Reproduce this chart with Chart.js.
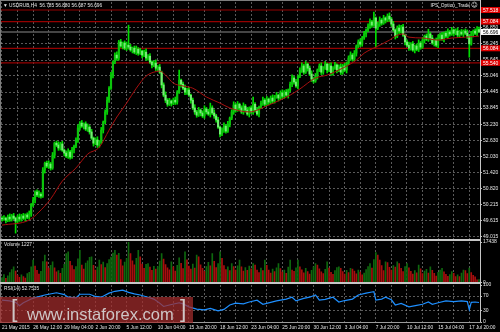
<!DOCTYPE html>
<html>
<head>
<meta charset="utf-8">
<script src="https://cdn.jsdelivr.net/npm/chart.js@4.4.1/dist/chart.umd.min.js"></script>
<style>
  html, body { margin: 0; padding: 0; background: #000; }
  #wrap { position: relative; width: 500px; height: 332px; overflow: hidden; background: #000; }
  canvas { position: absolute; left: 0; }
  .rule { position: absolute; }
  #wm { position: absolute; left: 0; top: 297px; width: 193px; height: 26px; background: rgba(165,45,45,0.72);
        color: #cfc6c6; font-family: 'Liberation Sans', Arial, sans-serif; }
  #wm span { position: absolute; white-space: nowrap; }
</style>
</head>
<body>
<div id="wrap">
  <canvas id="main" width="500" height="240" style="top:0"></canvas>
  <canvas id="vol" width="500" height="46" style="top:238px"></canvas>
  <canvas id="rsi" width="500" height="50" style="top:282px"></canvas>
  <div class="rule" style="left:0;top:0;width:481px;height:1px;background:#7d7d7d"></div>
  <div class="rule" style="left:0;top:0;width:1px;height:323px;background:#7d7d7d"></div>
  <div class="rule" style="left:480px;top:0;width:1px;height:323px;background:#c6c6c6"></div>
  <div class="rule" style="left:0;top:239px;width:480px;height:2px;background:#c6c6c6"></div>
  <div class="rule" style="left:0;top:282px;width:480px;height:2px;background:#c6c6c6"></div>
  <div class="rule" style="left:0;top:322px;width:481px;height:1px;background:#9a9a9a"></div>
  <div id="wm">
    <span style="left:11px;top:1px;font-size:23px;line-height:23px">[</span>
    <span style="left:27px;top:9px;font-size:16.5px;line-height:16.5px">www.instaforex.com</span>
    <span style="left:180px;top:1px;font-size:23px;line-height:23px">]</span>
  </div>
</div>
<script>
// time axis labels, one every 16 bars (H4)
const timeLabels = ['21 May 2015', '26 May 12:00', '29 May 04:00', '2 Jun 20:00', '5 Jun 12:00', '10 Jun 04:00',
  '15 Jun 20:00', '18 Jun 12:00', '23 Jun 04:00', '25 Jun 20:00', '30 Jun 12:00', '3 Jul 04:00',
  '7 Jul 20:00', '10 Jul 12:00', '15 Jul 04:00', '17 Jul 20:00'];

const priceTicks = [49.015, 49.615, 50.215, 50.820, 51.420, 52.030, 52.630, 53.230, 53.845, 54.445,
  55.046, 55.645, 56.245, 56.850];
const levelPrices = [57.518, 57.084, 56.084, 55.540];

const opens = [
  49.72, 49.69, 49.72, 49.65, 49.76, 49.69, 49.80, 49.72, 49.61, 49.76,
  49.69, 49.80, 49.72, 49.84, 49.76, 49.87, 50.21, 50.40, 50.70, 50.59,
  50.62, 50.55, 51.52, 51.78, 51.67, 51.75, 51.60, 52.08, 52.53, 52.46,
  52.35, 52.50, 52.27, 52.16, 52.05, 52.20, 52.01, 52.27, 52.42, 52.65,
  53.10, 53.28, 53.17, 53.25, 53.06, 53.13, 52.95, 52.72, 52.53, 52.65,
  52.46, 52.57, 53.02, 53.32, 53.70, 54.14, 54.59, 55.08, 55.57, 55.83,
  55.72, 56.32, 56.17, 56.28, 56.09, 56.20, 56.13, 56.02, 56.09, 55.94,
  56.05, 55.90, 55.98, 55.83, 55.94, 55.72, 55.79, 55.57, 55.46, 55.53,
  55.34, 55.38, 55.19, 54.71, 54.33, 54.14, 53.99, 54.11, 54.03, 54.14,
  54.07, 54.44, 54.89, 54.74, 54.59, 54.44, 54.52, 54.33, 54.14, 53.85,
  53.70, 53.58, 53.77, 53.66, 53.55, 53.81, 53.70, 53.62, 53.85, 53.66,
  53.55, 53.40, 53.13, 52.87, 53.02, 53.17, 52.98, 53.25, 53.47, 53.70,
  53.96, 53.77, 53.99, 53.85, 53.70, 53.92, 53.77, 53.62, 53.85, 53.70,
  53.99, 53.77, 53.62, 53.88, 54.03, 54.14, 53.99, 54.18, 54.07, 54.22,
  54.11, 54.26, 54.33, 54.22, 54.41, 54.29, 54.44, 54.33, 54.52, 54.74,
  54.97, 54.82, 54.67, 55.04, 55.27, 55.42, 55.19, 55.49, 55.34, 55.12,
  54.93, 54.86, 55.04, 55.27, 55.42, 55.19, 55.34, 55.49, 55.27, 55.42,
  55.16, 55.34, 55.46, 55.27, 55.38, 55.19, 55.42, 55.27, 55.53, 55.72,
  55.83, 55.68, 55.90, 56.17, 56.32, 56.24, 56.47, 56.62, 56.77, 56.92,
  57.07, 56.95, 57.22, 56.84, 56.99, 57.14, 57.03, 57.22, 57.14, 57.29,
  57.18, 56.99, 56.77, 56.54, 56.84, 56.73, 56.88, 56.58, 56.32, 56.20,
  56.09, 56.24, 56.02, 56.17, 56.05, 56.28, 56.13, 56.39, 56.54, 56.43,
  56.62, 56.47, 56.28, 56.39, 56.20, 56.47, 56.58, 56.43, 56.65, 56.54,
  56.69, 56.62, 56.77, 56.65, 56.73, 56.58, 56.69, 56.62, 56.73, 56.65,
  56.54, 56.25, 56.62, 56.73, 56.65, 56.785];

const highs = [
  49.78, 49.82, 49.76, 49.84, 49.88, 49.86, 49.90, 49.76, 49.84, 49.88,
  49.86, 49.90, 49.88, 49.92, 49.99, 50.27, 50.50, 50.74, 50.78, 50.74,
  50.68, 51.62, 51.82, 51.86, 51.87, 51.81, 52.18, 52.57, 52.61, 52.58,
  52.56, 52.60, 52.31, 52.24, 52.32, 52.26, 52.37, 52.46, 52.73, 53.22,
  53.34, 53.38, 53.29, 53.33, 53.25, 53.19, 53.05, 52.76, 52.73, 52.77,
  52.63, 53.12, 53.36, 53.78, 54.26, 54.65, 55.18, 55.61, 55.91, 55.95,
  56.38, 56.42, 56.32, 56.36, 56.32, 56.95, 56.23, 56.13, 56.17, 56.17,
  56.11, 56.08, 56.02, 56.02, 56.06, 55.85, 55.89, 55.61, 55.61, 55.65,
  55.44, 55.48, 55.23, 54.79, 54.45, 54.20, 54.21, 54.15, 54.22, 54.26,
  54.50, 55.27, 54.93, 54.82, 54.71, 54.58, 54.62, 54.37, 54.22, 53.97,
  53.76, 53.87, 53.81, 53.74, 53.93, 53.87, 53.80, 54.03, 53.93, 53.78,
  53.61, 53.50, 53.17, 53.10, 53.29, 53.23, 53.35, 53.51, 53.78, 54.08,
  54.02, 54.09, 54.03, 53.93, 54.04, 53.98, 53.87, 53.89, 53.93, 54.26,
  54.05, 53.87, 53.92, 54.11, 54.26, 54.20, 54.28, 54.22, 54.30, 54.34,
  54.32, 54.43, 54.37, 54.49, 54.53, 54.50, 54.54, 54.56, 54.82, 55.09,
  55.03, 54.92, 55.08, 55.35, 55.54, 55.48, 55.59, 55.53, 55.42, 55.24,
  54.99, 55.14, 55.31, 55.50, 55.54, 55.40, 55.59, 55.53, 55.50, 55.54,
  55.40, 55.56, 55.50, 55.46, 55.50, 55.48, 55.52, 55.57, 55.80, 55.95,
  55.89, 56.00, 56.21, 56.40, 56.44, 56.53, 56.72, 56.81, 57.00, 57.19,
  57.13, 57.44, 57.26, 57.07, 57.26, 57.20, 57.32, 57.26, 57.37, 57.41,
  57.24, 57.09, 56.81, 56.92, 56.96, 56.94, 56.98, 56.62, 56.40, 56.32,
  56.30, 56.34, 56.21, 56.25, 56.40, 56.34, 56.49, 56.58, 56.62, 56.80,
  56.68, 56.57, 56.43, 56.47, 56.59, 56.64, 56.68, 56.69, 56.73, 56.81,
  56.75, 56.87, 56.81, 56.81, 56.85, 56.75, 56.79, 56.77, 56.81, 56.77,
  56.60, 56.72, 56.77, 56.81, 56.90, 56.880];

const lows = [
  49.61, 49.64, 49.54, 49.59, 49.60, 49.61, 49.67, 49.16, 49.55, 49.60,
  49.61, 49.67, 49.61, 49.70, 49.67, 49.79, 50.16, 50.29, 50.53, 50.50,
  50.47, 50.50, 51.41, 51.61, 51.58, 51.52, 51.55, 51.97, 52.40, 52.26,
  52.27, 52.22, 52.05, 51.99, 51.96, 51.93, 51.96, 52.16, 52.36, 52.56,
  53.02, 53.12, 53.06, 53.00, 52.97, 52.87, 52.67, 52.42, 52.47, 52.37,
  52.38, 52.52, 52.91, 53.26, 53.61, 54.06, 54.54, 54.97, 55.51, 55.63,
  55.64, 56.12, 56.06, 56.03, 56.00, 56.05, 55.97, 55.91, 55.88, 55.85,
  55.82, 55.85, 55.72, 55.77, 55.63, 55.64, 55.52, 55.35, 55.40, 55.25,
  55.26, 55.14, 54.60, 54.27, 54.05, 53.91, 53.94, 53.92, 53.97, 53.98,
  53.99, 54.39, 54.63, 54.53, 54.35, 54.36, 54.28, 54.03, 53.79, 53.61,
  53.50, 53.53, 53.55, 53.49, 53.46, 53.62, 53.57, 53.51, 53.60, 53.46,
  53.32, 53.08, 52.76, 52.81, 52.93, 52.90, 52.93, 53.14, 53.41, 53.61,
  53.69, 53.72, 53.74, 53.64, 53.61, 53.69, 53.57, 53.51, 53.64, 53.61,
  53.69, 53.57, 53.51, 53.82, 53.94, 53.91, 53.94, 53.96, 54.01, 54.02,
  54.03, 54.21, 54.11, 54.16, 54.20, 54.21, 54.28, 54.22, 54.46, 54.65,
  54.74, 54.62, 54.56, 54.98, 55.18, 55.11, 55.14, 55.23, 55.06, 54.84,
  54.78, 54.81, 54.93, 55.21, 55.10, 55.11, 55.29, 55.16, 55.21, 55.07,
  55.08, 55.29, 55.16, 55.21, 55.10, 55.11, 55.22, 55.16, 55.47, 55.63,
  55.60, 55.63, 55.79, 56.11, 56.15, 56.16, 56.42, 56.51, 56.71, 56.83,
  56.87, 56.90, 56.13, 56.78, 56.90, 56.95, 56.98, 57.03, 57.08, 57.09,
  56.91, 56.72, 56.43, 56.48, 56.64, 56.65, 56.53, 56.21, 56.14, 56.00,
  56.01, 55.97, 55.91, 55.99, 55.96, 56.05, 56.08, 56.28, 56.37, 56.34,
  56.39, 56.23, 56.17, 56.14, 56.11, 56.39, 56.38, 56.32, 56.48, 56.45,
  56.54, 56.57, 56.54, 56.59, 56.49, 56.50, 56.57, 56.51, 56.59, 56.45,
  55.75, 56.20, 56.51, 56.59, 56.56, 56.687];

const closes = [
  49.69, 49.72, 49.65, 49.76, 49.69, 49.80, 49.72, 49.61, 49.76, 49.69,
  49.80, 49.72, 49.84, 49.76, 49.87, 50.21, 50.40, 50.70, 50.59, 50.62,
  50.55, 51.52, 51.78, 51.67, 51.75, 51.60, 52.08, 52.53, 52.46, 52.35,
  52.50, 52.27, 52.16, 52.05, 52.20, 52.01, 52.27, 52.42, 52.65, 53.10,
  53.28, 53.17, 53.25, 53.06, 53.13, 52.95, 52.72, 52.53, 52.65, 52.46,
  52.57, 53.02, 53.32, 53.70, 54.14, 54.59, 55.08, 55.57, 55.83, 55.72,
  56.32, 56.17, 56.28, 56.09, 56.20, 56.13, 56.02, 56.09, 55.94, 56.05,
  55.90, 55.98, 55.83, 55.94, 55.72, 55.79, 55.57, 55.46, 55.53, 55.34,
  55.38, 55.19, 54.71, 54.33, 54.14, 53.99, 54.11, 54.03, 54.14, 54.07,
  54.44, 54.89, 54.74, 54.59, 54.44, 54.52, 54.33, 54.14, 53.85, 53.70,
  53.58, 53.77, 53.66, 53.55, 53.81, 53.70, 53.62, 53.85, 53.66, 53.55,
  53.40, 53.13, 52.87, 53.02, 53.17, 52.98, 53.25, 53.47, 53.70, 53.96,
  53.77, 53.99, 53.85, 53.70, 53.92, 53.77, 53.62, 53.85, 53.70, 53.99,
  53.77, 53.62, 53.88, 54.03, 54.14, 53.99, 54.18, 54.07, 54.22, 54.11,
  54.26, 54.33, 54.22, 54.41, 54.29, 54.44, 54.33, 54.52, 54.74, 54.97,
  54.82, 54.67, 55.04, 55.27, 55.42, 55.19, 55.49, 55.34, 55.12, 54.93,
  54.86, 55.04, 55.27, 55.42, 55.19, 55.34, 55.49, 55.27, 55.42, 55.16,
  55.34, 55.46, 55.27, 55.38, 55.19, 55.42, 55.27, 55.53, 55.72, 55.83,
  55.68, 55.90, 56.17, 56.32, 56.24, 56.47, 56.62, 56.77, 56.92, 57.07,
  56.95, 57.22, 56.84, 56.99, 57.14, 57.03, 57.22, 57.14, 57.29, 57.18,
  56.99, 56.77, 56.54, 56.84, 56.73, 56.88, 56.58, 56.32, 56.20, 56.09,
  56.24, 56.02, 56.17, 56.05, 56.28, 56.13, 56.39, 56.54, 56.43, 56.62,
  56.47, 56.28, 56.39, 56.20, 56.47, 56.58, 56.43, 56.65, 56.54, 56.69,
  56.62, 56.77, 56.65, 56.73, 56.58, 56.69, 56.62, 56.73, 56.65, 56.54,
  56.25, 56.62, 56.73, 56.65, 56.785, 56.696];

const volumes = [
  2100, 3400, 1800, 2900, 4300, 5600, 6700, 4900, 3100, 2200,
  3300, 2600, 1900, 3800, 4400, 6800, 9600, 7100, 5200, 3600,
  4800, 9000, 11800, 8900, 6200, 7400, 8900, 6300, 4600, 5100,
  3900, 6100, 7800, 12500, 13200, 9100, 7300, 5600, 6900, 10200,
  13900, 7500, 5800, 8400, 9300, 10800, 11000, 7400, 5300, 6600,
  9600, 7700, 8800, 6400, 8100, 9900, 10900, 12700, 13900, 11800,
  12600, 9900, 7200, 8800, 10300, 17438, 12500, 9300, 7600, 10400,
  13900, 11000, 7900, 6100, 7800, 8200, 6600, 5200, 7000, 5800,
  6900, 9200, 12500, 10100, 7700, 6300, 5500, 8900, 6700, 4900,
  7400, 10600, 8300, 6000, 13200, 9800, 7100, 5800, 7900, 6200,
  11800, 11000, 7600, 6100, 4800, 6900, 8700, 7200, 12500, 9100,
  6400, 8200, 13200, 10400, 7300, 5600, 6800, 5100, 8200, 6900,
  5300, 7200, 9600, 6800, 4900, 6400, 5200, 7100, 5900, 8200,
  7500, 5400, 4300, 6200, 5100, 9600, 7400, 5300, 4100, 5800,
  4700, 6300, 8200, 6000, 4500, 5300, 3900, 6600, 9600, 5400,
  4800, 6300, 9600, 6800, 5500, 4200, 6100, 4700, 3600, 5200,
  6700, 8200, 7500, 5900, 4600, 3800, 5700, 8900, 6200, 4400,
  3500, 5100, 6400, 6800, 6100, 4700, 3600, 5200, 4300, 6100,
  5800, 4900, 3700, 5400, 4500, 3300, 4100, 5600, 6900, 8100,
  6200, 9900, 12900, 11800, 9600, 7300, 5100, 8900, 8600, 6500,
  5400, 7300, 6600, 8900, 8200, 6100, 4700, 6900, 8200, 6300,
  4800, 3600, 5100, 4200, 7500, 5900, 3800, 4900, 5700, 4100,
  6800, 5200, 3900, 2800, 4400, 5300, 6100, 4600, 3500, 2700,
  3400, 4700, 3900, 2600, 3300, 2500, 4100, 5400, 5100, 3800,
  6200, 4300, 3100, 2400, 1130, 1227];
const volumeTicks = [0, 17438];

// RSI(14) read at selected bars
const rsiBars = [0, 4, 7, 9, 11, 15, 17, 22, 28, 32, 34, 38, 40, 45, 48, 51, 55, 58, 62, 65,
  68, 71, 75, 78, 81, 83, 86, 91, 93, 96, 100, 104, 107, 111, 114, 117, 120, 124, 127, 131,
  134, 138, 141, 146, 149, 151, 155, 158, 161, 163, 166, 170, 173, 176, 180, 183, 187, 190, 191, 192,
  195, 197, 200, 202, 205, 209, 213, 216, 219, 221, 224, 228, 232, 236, 239, 240, 241, 243, 245];
const rsiValues = [59, 57, 53, 44, 52, 62, 66, 73, 79, 74, 67, 65, 75, 75, 69, 67, 78, 83, 86, 80,
  76, 73, 67, 62, 51, 42, 46, 52, 49, 41, 35, 33, 37, 30, 34, 46, 51, 49, 54, 59,
  48, 53, 57, 62, 67, 57, 64, 67, 73, 59, 61, 67, 54, 58, 62, 73, 78, 81, 82, 59,
  62, 67, 60, 46, 50, 41, 45, 48, 54, 48, 52, 57, 55, 57, 55, 33, 53, 54, 52.7535];
const rsiTicks = [0, 30, 70, 100];
const rsiLevels = [30, 70];

// moving average (red), read at selected bars
const maBars = [0, 14, 19, 25, 31, 38, 44, 50, 55, 59, 64, 69, 74, 78, 81, 84, 88, 93, 98, 105,
  112, 117, 127, 137, 148, 153, 161, 167, 173, 182, 186, 192, 199, 202, 206, 209, 216, 224, 231, 238, 245];
const maValues = [49.46, 49.65, 49.95, 50.44, 51.11, 51.60, 52.12, 52.38, 53.02, 53.51,
  54.03, 54.59, 55.04, 55.19, 55.23, 55.08, 54.78, 54.67, 54.59, 54.26,
  54.03, 53.85, 53.70, 53.96, 54.33, 54.56, 54.97, 55.08, 55.27, 55.64,
  55.90, 56.13, 56.39, 56.54, 56.62, 56.50, 56.47, 56.39, 56.47, 56.50, 56.54];

const FAMILY = "'Liberation Sans', Arial, sans-serif";
const TXT = '#e6e6e6';
const GRID = 'rgba(150,150,150,0.6)';
const BULL = '#0cc40c';
const BEAR = '#74ee74';
const WICK = '#00dc00';
const LEVEL = '#960000';
const VOL_UP = '#0e680e';
const VOL_DOWN = '#a80e0e';

Chart.defaults.font.family = FAMILY;
Chart.defaults.font.size = 5;
Chart.defaults.color = TXT;

const barIndex = closes.map((_, i) => i);
const last = closes.length - 1;

function timeAxis(showLabels) {
  return {
    type: 'category',
    offset: true,
    ticks: {
      display: showLabels,
      autoSkip: false, maxRotation: 0, minRotation: 0,
      align: 'start', padding: 3, color: TXT,
      font: { size: 4.8 },
      callback: (v, i) => i % 16 === 0 ? timeLabels[i / 16] : ''
    },
    grid: {
      offset: false,
      drawTicks: false,
      color: c => c.index % 8 === 0 ? GRID : 'transparent',
      lineWidth: 1
    },
    border: { display: false, dash: [2, 2] },
    afterFit: s => {
      s.paddingLeft = 0;
      s.paddingRight = 0;
      if (showLabels) s.height = 10;
    }
  };
}

function valueAxis(min, max, ticks, fmt, gridColor) {
  return {
    position: 'right', min: min, max: max,
    afterBuildTicks: s => { s.ticks = ticks.map(v => ({ value: v })); },
    afterFit: s => { s.width = 20; s.paddingTop = 0; s.paddingBottom = 0; },
    ticks: { autoSkip: false, padding: 1, color: TXT, callback: fmt },
    grid: { color: gridColor, tickLength: 2, tickColor: '#bdbdbd', tickBorderDash: [], tickWidth: 1 },
    border: { display: false, dash: [2, 2] }
  };
}

const baseOptions = {
  responsive: false,
  animation: false,
  events: [],
  plugins: { legend: { display: false }, tooltip: { enabled: false } }
};

const panelLabel = (text, y) => ({
  id: 'panelLabel',
  afterDraw(chart) {
    const ctx = chart.ctx;
    ctx.save();
    ctx.font = '4.8px ' + FAMILY;
    ctx.fillStyle = TXT;
    ctx.textBaseline = 'middle';
    ctx.fillText(text, 4, y);
    ctx.restore();
  }
});

// level lines, bid line, price tags and the title
const mainOverlay = {
  id: 'mainOverlay',
  beforeDatasetsDraw(chart) {
    const { ctx, chartArea: a } = chart;
    const y = chart.scales.y;
    ctx.save();
    ctx.lineWidth = 1.2;
    ctx.strokeStyle = LEVEL;
    levelPrices.forEach(p => {
      const py = y.getPixelForValue(p);
      ctx.beginPath(); ctx.moveTo(a.left, py); ctx.lineTo(a.right, py); ctx.stroke();
    });
    const bid = y.getPixelForValue(closes[last]);
    ctx.strokeStyle = '#5c5c5c';
    ctx.lineWidth = 1.5;
    ctx.beginPath(); ctx.moveTo(a.left, bid); ctx.lineTo(a.right, bid); ctx.stroke();
    ctx.restore();
  },
  afterDraw(chart) {
    const { ctx, chartArea: a } = chart;
    const y = chart.scales.y;
    ctx.save();
    ctx.font = '5px ' + FAMILY;
    ctx.textBaseline = 'middle';
    const tag = (p, bg, fg) => {
      const py = y.getPixelForValue(p);
      ctx.fillStyle = bg;
      ctx.fillRect(a.right + 1, py - 3, 19, 6);
      ctx.fillStyle = fg;
      ctx.fillText(p.toFixed(3), a.right + 3, py + 0.5);
    };
    levelPrices.forEach(p => tag(p, '#e00000', '#ffffff'));
    tag(closes[last], '#ffffff', '#000000');

    ctx.font = '4.8px ' + FAMILY;
    ctx.fillStyle = TXT;
    const ohlc = [opens[last], highs[last], lows[last], closes[last]].map(v => v.toFixed(3)).join(' ');
    ctx.fillText('\u25BC USDRUB,H4  ' + ohlc, 3, 5.5);
    ctx.textAlign = 'right';
    ctx.fillText('IPS_Option_Trade', a.right - 10, 5.5);
    ctx.textAlign = 'left';
    ctx.font = '6.5px DejaVu Sans';
    ctx.fillText('\u263A', a.right - 9, 5.5);
    ctx.restore();
  }
};

new Chart(document.getElementById('main'), {
  type: 'bar',
  data: {
    labels: barIndex,
    datasets: [
      {
        type: 'line',
        data: maBars.map((b, k) => ({ x: b, y: maValues[k] })),
        borderColor: '#a81010', borderWidth: 1, pointRadius: 0,
        cubicInterpolationMode: 'monotone', order: 0
      },
      {
        data: opens.map((o, i) => [o, closes[i]]),
        backgroundColor: c => closes[c.dataIndex] >= opens[c.dataIndex] ? BULL : BEAR,
        barThickness: 1.5, grouped: false, order: 1
      },
      {
        data: lows.map((l, i) => [l, highs[i]]),
        backgroundColor: WICK,
        barThickness: 1, grouped: false, order: 2
      }
    ]
  },
  options: Object.assign({}, baseOptions, {
    layout: { padding: { left: 1, top: 2, right: 0, bottom: 1 } },
    scales: {
      x: timeAxis(false),
      y: valueAxis(48.94, 57.818, priceTicks, v => v.toFixed(3), GRID)
    }
  }),
  plugins: [mainOverlay]
});

new Chart(document.getElementById('vol'), {
  type: 'bar',
  data: {
    labels: barIndex,
    datasets: [{
      data: volumes,
      backgroundColor: c => (c.dataIndex > 0 && volumes[c.dataIndex] < volumes[c.dataIndex - 1]) ? VOL_DOWN : VOL_UP,
      barThickness: 1
    }]
  },
  options: Object.assign({}, baseOptions, {
    layout: { padding: { left: 1, top: 4, right: 0, bottom: 1.5 } },
    scales: {
      x: timeAxis(false),
      y: valueAxis(0, 17438, volumeTicks, v => String(v), 'transparent')
    }
  }),
  plugins: [panelLabel('Volume ' + volumes[last], 7)]
});

new Chart(document.getElementById('rsi'), {
  type: 'line',
  data: {
    labels: barIndex,
    datasets: [{
      data: rsiBars.map((b, k) => ({ x: b, y: rsiValues[k] })),
      borderColor: '#1e8fff', borderWidth: 1.2, pointRadius: 0, tension: 0
    }]
  },
  options: Object.assign({}, baseOptions, {
    layout: { padding: { left: 1, top: 3, right: 0, bottom: 0 } },
    scales: {
      x: timeAxis(true),
      y: valueAxis(0, 100, rsiTicks, v => String(v),
        c => (c.tick && rsiLevels.includes(c.tick.value)) ? GRID : 'transparent')
    }
  }),
  plugins: [panelLabel('RSI(14) ' + rsiValues[rsiValues.length - 1].toFixed(4), 6.5)]
});
</script>
</body>
</html>
